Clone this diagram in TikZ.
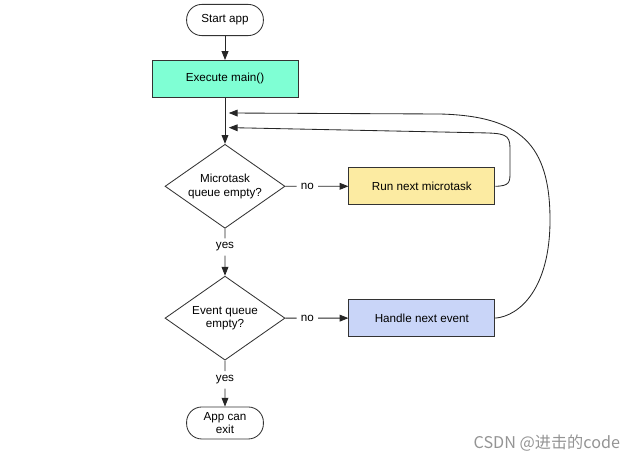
\documentclass[tikz,border=0pt]{standalone}
\usepackage{fontspec}
\setmainfont{Liberation Sans}
\newfontfamily\cjkfont{Noto Sans CJK SC}
\usetikzlibrary{arrows.meta,positioning,calc,shapes.geometric}

\definecolor{mainfill}{HTML}{7FFFD4}
\definecolor{runfill}{HTML}{FCEBA2}
\definecolor{eventfill}{HTML}{C9D5F8}

\begin{document}
\begin{tikzpicture}[
  node distance=11.5mm,
  every node/.style={font=\fontsize{8.3}{9.6}\selectfont},
  term/.style={draw=black!80, line width=0.6pt, rounded corners=3.8mm, align=center, minimum height=7.8mm, minimum width=19.2mm, inner sep=1pt},
  box/.style={draw=black!80, line width=0.6pt, align=center, minimum height=9.25mm, minimum width=36.5mm},
  test/.style={draw=black!80, line width=0.6pt, diamond, aspect=1.43, align=center, inner sep=0pt, minimum width=30mm, minimum height=21mm},
  lbl/.style={inner sep=1mm},
  line/.style={line width=0.6pt, black!85},
  arr/.style={-{Triangle[length=2.2mm,width=1.7mm]}, line width=0.6pt, black!85}
]
\useasboundingbox (0,0) rectangle (16,-11.575);
\node[term] (start) at (5.625,-0.5) {Start app};
\node[box, fill=mainfill, below=6mm of start] (main) {Execute main()};
\node[test, below=of main] (d1) {Microtask\\queue empty?};
\node[test, below=11.75mm of d1] (d2) {Event queue\\empty?};
\node[term, minimum height=8mm, below=of d2] (exit) {App can\\exit};
\node[box, fill=runfill, right=15.75mm of d1] (run) {Run next microtask};
\node[box, fill=eventfill, right=15.75mm of d2] (event) {Handle next event};

\node[lbl] (no1) at ($(d1.east)!0.35!(run.west)$) {no};
\node[lbl] (no2) at ($(d2.east)!0.35!(event.west)$) {no};
\node[lbl] (yes1) at ($(d1.south)!0.39!(d2.north)$) {yes};
\node[lbl] (yes2) at ($(d2.south)!0.42!(exit.north)$) {yes};

\draw[arr] (start) -- (main);
\draw[arr] (main) -- (d1);
\draw[line] (d1) -- (no1);
\draw[arr] (no1) -- (run);
\draw[line] (d1) -- (yes1);
\draw[arr] (yes1) -- (d2);
\draw[line] (d2) -- (no2);
\draw[arr] (no2) -- (event);
\draw[line] (d2) -- (yes2);
\draw[arr] (yes2) -- (exit);

% loops back above the first test
\coordinate (back1) at (5.72,-3.19);
\coordinate (back2) at (5.72,-2.825);
\draw[arr] (run.east) .. controls (12.75,-4.65) and (12.75,-4.55) .. (12.75,-4.3)
  -- (12.75,-3.7) .. controls (12.75,-3.35) and (12.6,-3.33) .. (12.0,-3.32) -- (back1);
\draw[arr] (event.east) .. controls (13.0,-7.9) and (13.75,-7.2) .. (13.75,-5.5)
  .. controls (13.75,-3.6) and (13.0,-2.9) .. (11.0,-2.85) -- (back2);

\node[anchor=east, text=black!42, font=\cjkfont\fontsize{11.5}{13}\selectfont] (mark) at (15.625,-11.08) {CSDN @进击的code};
\end{tikzpicture}
\end{document}
